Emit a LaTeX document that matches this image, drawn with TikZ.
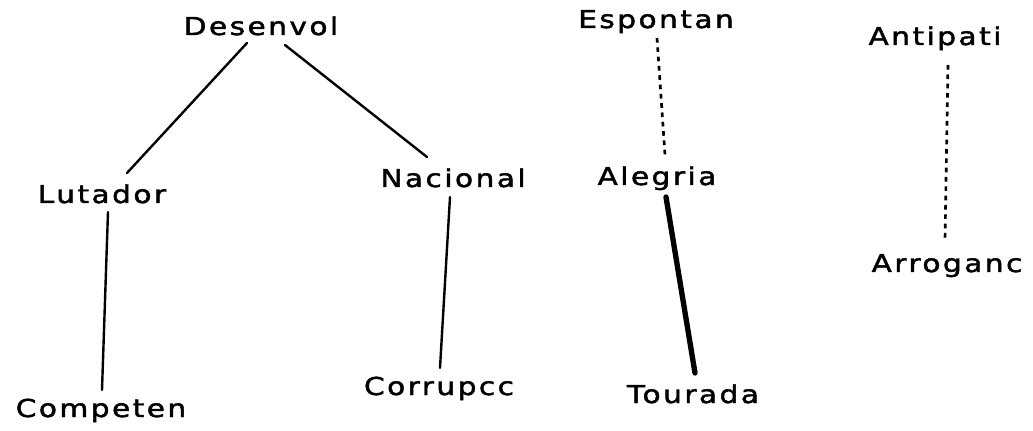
\documentclass[tikz,border=0pt]{standalone}
\usepackage{fontspec}
\setmainfont{DejaVu Sans}[LetterSpace=10,FakeStretch=1.2,FakeBold=1.8]
\begin{document}
\begin{tikzpicture}[x=0.75pt,y=-0.75pt,
  word/.style={anchor=base,inner sep=0pt,font=\fontsize{18.5}{21}\selectfont},
  link/.style={line width=1.8pt,line cap=round},
  dottedlink/.style={line width=2pt,dash pattern=on 3.5pt off 3.5pt},
  heavylink/.style={line width=4pt,line cap=round}]
\useasboundingbox (0,0) rectangle (1033,431);
\node[word] (des) at (261,35) {Desenvol};
\node[word] (lut) at (102,203) {Lutador};
\node[word] (nac) at (453,187) {Nacional};
\node[word] (com) at (101,417) {Competen};
\node[word] (cor) at (439,395) {Corrupcc};
\node[word] (esp) at (656,28) {Espontan};
\node[word] (ale) at (657,185) {Alegria};
\node[word] (tou) at (693,403) {Tourada};
\node[word] (ant) at (935,45) {Antipati};
\node[word] (arr) at (947,272) {Arroganc};
\draw[link] ([shift={(-14,8)}]des.base) -- ([shift={(25,-30)}]lut.base);
\draw[link] ([shift={(24,10)}]des.base) -- ([shift={(-26,-30)}]nac.base);
\draw[link] ([shift={(6,9)}]lut.base) -- ([shift={(1,-27)}]com.base);
\draw[link] ([shift={(-3,10)}]nac.base) -- ([shift={(1,-27)}]cor.base);
\draw[dottedlink] ([shift={(1,10)}]esp.base) -- ([shift={(8,-30)}]ale.base);
\draw[heavylink] ([shift={(9,12)}]ale.base) -- ([shift={(2,-30)}]tou.base);
\draw[dottedlink] ([shift={(13,20)}]ant.base) -- ([shift={(-2,-32)}]arr.base);
\end{tikzpicture}
\end{document}
